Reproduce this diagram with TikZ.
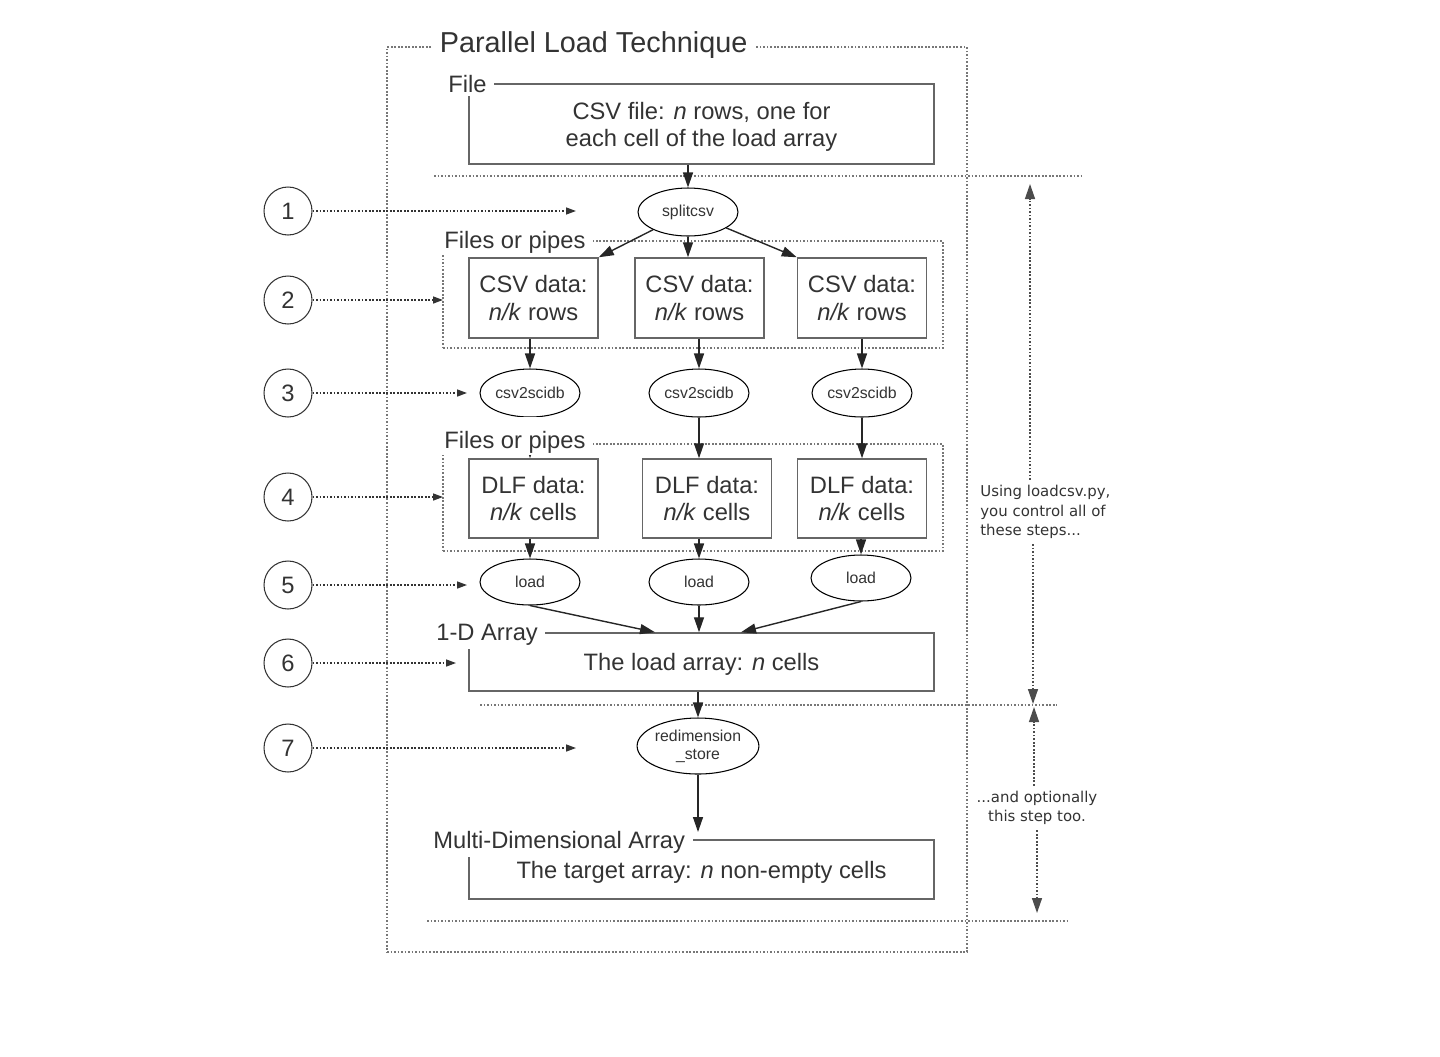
\documentclass[tikz,border=0pt]{standalone}
\usepackage{fontspec}
\setmainfont{Liberation Sans}
\newfontfamily\notefont{DejaVu Sans}
\usepackage{tikz}
\usetikzlibrary{positioning,shapes.geometric,arrows.meta}
\definecolor{ink}{HTML}{333333}
\definecolor{edge}{HTML}{666666}
\definecolor{dots}{HTML}{777777}

\begin{document}
\begin{tikzpicture}[x=0.02cm, y=-0.02cm,
    every node/.style={text=ink},
    box/.style={draw=edge, line width=0.85pt, align=center, inner sep=0pt, font=\fontsize{13.5}{15.4}\selectfont},
    cell/.style={box, minimum width=2.58cm, minimum height=1.6cm},
    wide/.style={box, minimum width=9.3cm, text depth=0pt},
    prog/.style={draw, ellipse, semithick, align=center, inner sep=0pt, minimum width=2cm, minimum height=0.96cm, font=\fontsize{9}{10.2}\selectfont},
    zone/.style={draw=dots, line width=0.8pt, dash pattern=on 1pt off 1pt},
    tag/.style={fill=white, anchor=base west, inner xsep=0.15cm, inner ysep=0.08cm, font=\fontsize{13.5}{15.4}\selectfont},
    num/.style={draw=ink, circle, semithick, minimum size=0.96cm, inner sep=0pt, font=\fontsize{13.5}{15.4}\selectfont},
    flow/.style={-{Triangle[length=0.3cm,width=0.2cm]}, line width=0.8pt, draw=black!85},
    hint/.style={-{Triangle[length=0.2cm,width=0.14cm]}, line width=0.8pt, draw=black!80, dash pattern=on 1pt off 1pt},
    dim/.style={-{Triangle[length=0.3cm,width=0.2cm]}, line width=0.8pt, draw=black!70, dash pattern=on 1pt off 1pt},
    note/.style={font=\notefont\fontsize{8.5}{11.1}\selectfont, inner sep=0.1cm},
  ]
  \useasboundingbox (0,0) rectangle (1440,1056);

  \node[zone, minimum width=11.6cm, minimum height=18.1cm] (all) at (677,499.5) {};
  \node[zone, minimum width=10cm, minimum height=2.14cm] (p1) at (693,294.5) {};
  \node[zone, minimum width=10cm, minimum height=2.14cm] (p2) at (693,497.5) {};

  \draw[zone] (434,176) -- (1084,176);
  \draw[zone] (480,705) -- (1057,705);
  \draw[zone] (427,921) -- (1069,921);

  \node[wide, minimum height=1.6cm] (file) at (701.5,124) {CSV file: \textit{n} rows, one for\\each cell of the load array};
  \node[cell] (csv1) at (533.5,298) {CSV data:\\\textit{n/k} rows};
  \node[cell] (csv2) at (699.5,298) {CSV data:\\\textit{n/k} rows};
  \node[cell] (csv3) at (862,298) {CSV data:\\\textit{n/k} rows};
  \node[cell, minimum height=1.58cm] (dlf1) at (533.5,498.5) {DLF data:\\\textit{n/k} cells};
  \node[cell, minimum height=1.58cm] (dlf2) at (707,498.5) {DLF data:\\\textit{n/k} cells};
  \node[cell, minimum height=1.58cm] (dlf3) at (862,498.5) {DLF data:\\\textit{n/k} cells};
  \node[wide, minimum height=1.16cm] (oned) at (701.5,662) {The load array: \textit{n} cells};
  \node[wide, minimum height=1.18cm] (md) at (701.5,869.5) {The target array: \textit{n} non-empty cells};

  \node[prog] (split) at (688,212) {splitcsv};
  \node[prog] (scidb1) at (530,393) {csv2scidb};
  \node[prog] (scidb2) at (699,393) {csv2scidb};
  \node[prog] (scidb3) at (862,393) {csv2scidb};
  \node[prog, minimum height=0.92cm] (load1) at (530,582) {load};
  \node[prog, minimum height=0.92cm] (load2) at (699,582) {load};
  \node[prog, minimum height=0.92cm] (load3) at (861,578) {load};
  \node[prog, minimum width=2.36cm, minimum height=1.12cm] (redim) at (698,746) {redimension\\\_store};
  \coordinate (mdin) at (698,832);

  \draw[flow] (file.south -| split) -- (split.north);
  \draw[flow] (split) -- (csv1.north east);
  \draw[flow] (split.south) -- (split.south |- csv2.north);
  \draw[flow] (split) -- (csv3.north west);
  \draw[flow] (csv1.south -| scidb1) -- (scidb1.north);
  \draw[flow] (csv2.south -| scidb2) -- (scidb2.north);
  \draw[flow] (csv3.south -| scidb3) -- (scidb3.north);
  \draw[flow] (scidb1.south) -- (scidb1.south |- dlf1.north);
  \draw[flow] (scidb2.south) -- (scidb2.south |- dlf2.north);
  \draw[flow] (scidb3.south) -- (scidb3.south |- dlf3.north);
  \draw[flow] (dlf1.south -| load1) -- (load1.north);
  \draw[flow] (dlf2.south -| load2) -- (load2.north);
  \draw[flow] (dlf3.south -| load3) -- (load3.north);
  \draw[flow] (load1.south) -- ([xshift=-0.93cm]oned.north);
  \draw[flow] (load2.south) -- (load2.south |- oned.north);
  \draw[flow] (load3.south) -- ([xshift=0.79cm]oned.north);
  \draw[flow] (oned.south -| redim) -- (redim.north);
  \draw[flow] (redim.south) -- (redim.south |- mdin);

  \foreach \i/\y/\x in {1/211/576, 2/300/443, 3/393/467, 4/497/443, 5/585/467, 6/663/456, 7/748/576} {
    \node[num] (s\i) at (288,\y) {\i};
    \coordinate (t\i) at (\x,\y);
    \draw[hint] (s\i) -- (t\i);
  }

  \node[note, anchor=west, align=left] (n1) at (975,512) {Using loadcsv.py,\\you control all of\\these steps...};
  \node[note, align=center] (n2) at (1037,808) {...and optionally\\this step too.};
  \coordinate (u1) at (1030,184);
  \coordinate (d1) at (1033,704);
  \coordinate (u2) at (1034,707);
  \coordinate (d2) at (1037,913);
  \draw[dim] (u1 |- n1.north) -- (u1);
  \draw[dim] (d1 |- n1.south) -- (d1);
  \draw[dim] (n2.north -| u2) -- (u2);
  \draw[dim] (n2.south -| d2) -- (d2);

  \node[tag, font=\fontsize{16.4}{18}\selectfont] (title) at (432,52) {Parallel Load Technique};
  \node[tag] (lfile) at (440.5,92) {File};
  \node[tag, text height=0.62cm, text depth=0.14cm, inner ysep=0pt] (lp1) at (436.5,248) {Files or pipes};
  \node[tag, text height=0.62cm, text depth=0.14cm, inner ysep=0pt] (lp2) at (436.5,448) {Files or pipes};
  \node[tag] (l1d) at (428.5,640) {1-D Array};
  \node[tag] (lmd) at (425.5,848) {Multi-Dimensional Array};
\end{tikzpicture}
\end{document}
